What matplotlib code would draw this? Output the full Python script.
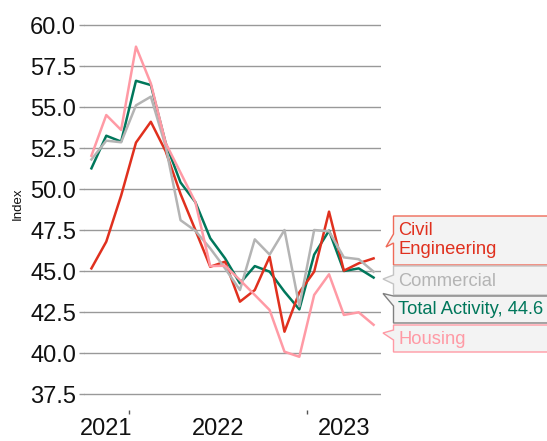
import matplotlib
matplotlib.use("Agg")
import matplotlib.pyplot as plt
from matplotlib.patches import Polygon
from matplotlib.transforms import blended_transform_factory

plt.rcParams['font.family'] = ['Liberation Sans', 'DejaVu Sans']

# ---- data (monthly, Oct 2021 .. May 2023) ----
months = list(range(20))
total = [51.26, 53.25, 52.89, 56.6, 56.34, 52.8, 50.4, 49.2, 47.0, 45.77,
         44.25, 45.3, 44.96, 43.74, 42.66, 46.0, 47.46, 45.0, 45.16, 44.6]
civil = [45.16, 46.79, 49.6, 52.83, 54.1, 52.3, 49.7, 47.5, 45.26, 45.57,
         43.13, 43.84, 45.87, 41.3, 43.7, 44.96, 48.62, 45.02, 45.47, 45.77]
commercial = [51.8, 52.95, 52.85, 55.1, 55.63, 52.6, 48.1, 47.45, 46.38, 45.16,
              43.84, 46.93, 46.0, 47.5, 42.85, 47.5, 47.42, 45.83, 45.72, 44.96]
housing = [52.03, 54.51, 53.6, 58.68, 56.44, 52.8, 51.0, 49.2, 45.3, 45.32,
           44.45, 43.54, 42.62, 40.08, 39.77, 43.54, 44.8, 42.32, 42.48, 41.72]

year_labels = ['2021', '2022', '2023']
year_label_pos = [1.0, 8.5, 17.0]
year_ticks = [2.5, 14.5]
yticks = [37.5, 40.0, 42.5, 45.0, 47.5, 50.0, 52.5, 55.0, 57.5, 60.0]

c_total = '#00775b'
c_civil = '#e0301e'
c_comm = '#b4b4b4'
c_house = '#ff9aa5'

W, H = 547, 441
fig = plt.figure(figsize=(W / 100, H / 100), dpi=100)
ax = fig.add_axes([84 / W, 1 - 410.4 / H, 297 / W, (410.4 - 20.1) / H])

ax.plot(months, total, color=c_total, lw=1.8, zorder=3)
ax.plot(months, civil, color=c_civil, lw=1.8, zorder=3)
ax.plot(months, commercial, color=c_comm, lw=1.8, zorder=3)
ax.plot(months, housing, color=c_house, lw=1.8, zorder=3)

ax.set_xlim(-0.5, 19.5)
ax.set_ylim(36.5, 60.3)
for s in ax.spines.values():
    s.set_visible(False)
ax.set_yticks(yticks)
ax.set_yticklabels([f'{v:.1f}' for v in yticks])
ax.yaxis.grid(True, color='#999999', lw=1)
ax.set_axisbelow(True)
ax.tick_params(axis='y', length=3.6, width=1, color='#999999', pad=2,
               labelsize=17, labelcolor='#111111')
ax.set_xticks(year_ticks)
ax.set_xticklabels([])
ax.tick_params(axis='x', length=2.9, width=1, color='#555555')

tr = blended_transform_factory(ax.transData, ax.transAxes)
for xp, lab in zip(year_label_pos, year_labels):
    ax.text(xp, -0.019, lab, transform=tr, ha='center', va='top',
            fontsize=17, color='#111111')

fig.text(17.5 / W, 1 - 204 / H, 'Index', rotation=90, fontsize=9.5,
         ha='center', va='center', color='#111111')


def P(x, y):
    return (x / W, 1 - y / H)


def callout(top, bottom, tip, n1, n2, edge, lines_y, text, color):
    left = 393.5
    right = 600
    verts = [P(left, top), P(right, top), P(right, bottom), P(left, bottom),
             P(left, n2), P(tip[0], tip[1]), P(left, n1)]
    poly = Polygon(verts, closed=True, transform=fig.transFigure,
                   facecolor='#f3f3f3', edgecolor=edge, lw=1, clip_on=False,
                   zorder=5)
    fig.add_artist(poly)
    fig.text(398 / W, 1 - lines_y / H, text, fontsize=13.2, color=color,
             ha='left', va='center', linespacing=1.2, zorder=6)


callout(216, 265, (386, 247), 234, 243, '#ef6a58', 240, 'Civil\nEngineering', c_civil)
callout(266, 295, (383, 279), 275, 284, '#c4c4c4', 281, 'Commercial', c_comm)
callout(296, 323, (383, 293.5), 296, 306, '#808080', 309.5, 'Total Activity, 44.6', c_total)
callout(325, 352, (383, 333), 330, 340, '#ff9aa5', 339, 'Housing', c_house)

fig.savefig('out.png', dpi=100)
